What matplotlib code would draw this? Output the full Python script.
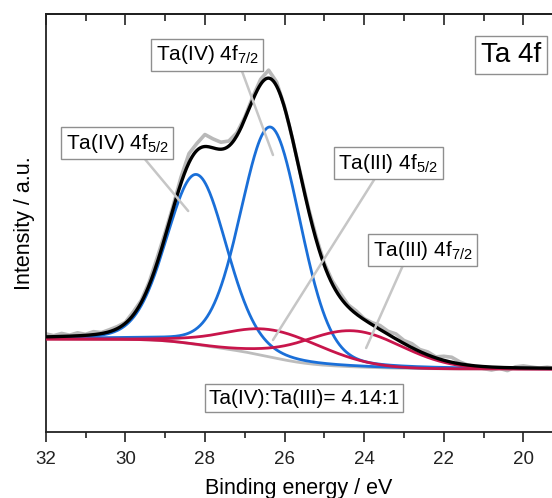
import numpy as np
import matplotlib.pyplot as plt
from matplotlib.ticker import MultipleLocator

plt.rcParams['font.family'] = ['Liberation Sans', 'DejaVu Sans']
plt.rcParams['mathtext.default'] = 'regular'

# %%
# Fitted components: position / eV, height above background, FWHM / eV, Lorentzian share
peak_labels = ['Ta(IV) 4f$_{5/2}$', 'Ta(IV) 4f$_{7/2}$', 'Ta(III) 4f$_{5/2}$', 'Ta(III) 4f$_{7/2}$']
peak_centers = [28.21, 26.35, 26.21, 24.30]
peak_heights = [170, 230, 27.5, 36]
peak_fwhm = [1.78, 1.78, 2.93, 2.93]
peak_eta = [0.15, 0.15, 0.0, 0.0]
peak_colors = ['#1a6fd8', '#1a6fd8', '#c8154b', '#c8154b']

# Shirley background end points (low / high binding energy side)
bg_low = 63
bg_high = 93

# Measured spectrum minus fit envelope, every 0.2 eV from 19.2 to 32.0 eV
residuals = [0, 1, 0, 1, 2, 1, -3, -1, -3, -2, -1, 0, 2, 5, 4, 1, 3, 2, 4, 3,
             5, 3, 4, 2, 1, 3, 2, 4, 3, 2, 3, 2, 1, 0, 1, 4, 8, 5, 3, 2,
             3, 5, 7, 9, 12, 7, 9, 6, 3, 4, 5, 3, 2, 3, 1, 2, 2, 1, 3, 1,
             3, 1, 3, 1, 3]

# Labels: text position, leader end (eV, a.u.), where the leader leaves the box
label_pos = [(30.20, 289), (27.94, 377), (23.39, 269), (22.53, 182)]
leader_end = [(28.42, 221), (26.29, 277), (26.29, 92), (23.95, 84)]
leader_rel = [(0.73, 0.0), (0.82, 0.0), (0.39, 0.0), (0.32, 0.0)]
ratio_text = 'Ta(IV):Ta(III)= 4.14:1'

# %%
# Build the fit curves
energy = np.linspace(19.2, 32.0, 641)


def pseudo_voigt(x, x0, h, w, eta):
    g = np.exp(-4 * np.log(2) * ((x - x0) / w) ** 2)
    l = 1 / (1 + 4 * ((x - x0) / w) ** 2)
    return h * ((1 - eta) * g + eta * l)


comps = [pseudo_voigt(energy, c, h, w, e)
         for c, h, w, e in zip(peak_centers, peak_heights, peak_fwhm, peak_eta)]
total = np.sum(comps, axis=0)
cum = np.cumsum(total)
background = bg_low + (bg_high - bg_low) * cum / cum[-1]
envelope = background + total
raw = envelope[::10] + np.array(residuals)

# %%
# Plot
fig = plt.figure(figsize=(5.52, 4.98), dpi=100)
ax = fig.add_axes([0.0828, 0.1325, 0.9172, 0.8394])

ax.plot(energy[::10], raw, color='#b9b9b9', lw=2.6, zorder=1)
ax.plot(energy, background, color='#bdbdbd', lw=2.0, zorder=2)
for comp, col in zip(comps, peak_colors):
    ax.plot(energy, background + comp, color=col, lw=2.0, zorder=3)
ax.plot(energy, envelope, color='black', lw=2.4, zorder=4)

box = dict(boxstyle='square,pad=0.22', fc='white', ec='#8f8f8f', lw=1.0)
for lab, pos, end, rel in zip(peak_labels, label_pos, leader_end, leader_rel):
    ax.annotate(lab, xy=end, xytext=pos, ha='center', va='center', fontsize=15,
                bbox=box, zorder=6,
                arrowprops=dict(arrowstyle='-', color='#c6c6c6', lw=1.8,
                                relpos=rel, shrinkA=0, shrinkB=0))

ax.text(20.31, 377, 'Ta 4f', ha='center', va='center', fontsize=20,
        bbox=dict(boxstyle='square,pad=0.2', fc='white', ec='#8f8f8f', lw=1.0), zorder=6)
ax.text(25.51, 34, ratio_text, ha='center', va='center', fontsize=15,
        bbox=dict(boxstyle='square,pad=0.2', fc='white', ec='#8f8f8f', lw=1.0), zorder=6)

ax.set_xlim(32, 19.28)
ax.set_ylim(0, 418)
ax.set_yticks([])
ax.xaxis.set_major_locator(MultipleLocator(2))
ax.xaxis.set_minor_locator(MultipleLocator(1))
ax.tick_params(axis='x', which='major', direction='out', length=7, width=1.2,
               labelsize=13.5, colors='#222222', pad=7)
ax.tick_params(axis='x', which='minor', direction='out', length=4, width=1.2, colors='#222222')

sec = ax.secondary_xaxis('top')
sec.xaxis.set_major_locator(MultipleLocator(2))
sec.xaxis.set_minor_locator(MultipleLocator(1))
sec.tick_params(axis='x', which='major', direction='in', length=8, width=1.2,
                labeltop=False, colors='#222222')
sec.tick_params(axis='x', which='minor', direction='in', length=5, width=1.2, colors='#222222')
sec.spines['top'].set_linewidth(1.3)

ax.spines['right'].set_visible(False)
for s in ['left', 'bottom', 'top']:
    ax.spines[s].set_linewidth(1.3)
    ax.spines[s].set_color('#222222')

ax.set_xlabel('Binding energy / eV', fontsize=15.5, labelpad=7)
ax.set_ylabel('Intensity / a.u.', fontsize=15.5, labelpad=8)

fig.savefig('out.png', dpi=100)
